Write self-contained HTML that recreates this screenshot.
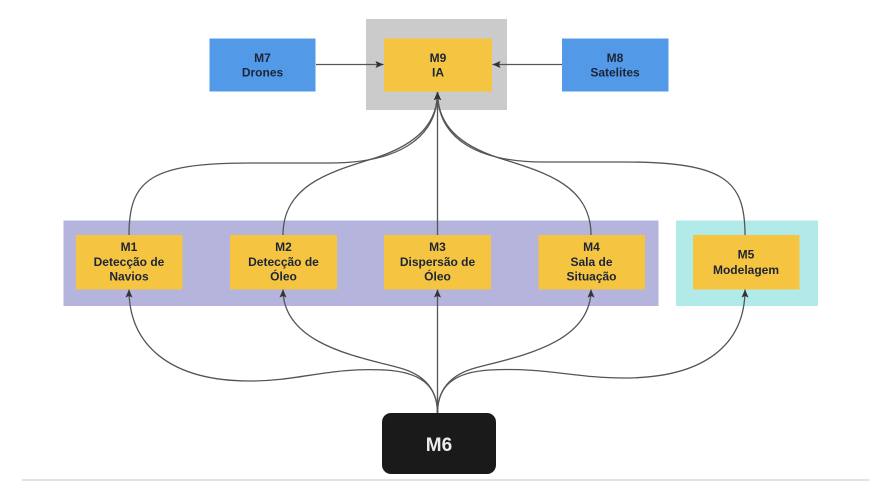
<!DOCTYPE html>
<html><head><meta charset="utf-8"><style>
html,body{margin:0;padding:0;background:#fff;width:869px;height:482px;overflow:hidden}
svg{display:block}
text{font-family:"Liberation Sans",Arial,sans-serif;font-weight:bold;font-size:12px;fill:#1d2436;text-anchor:middle}
</style></head><body>
<svg width="869" height="482" viewBox="0 0 869 482" xmlns="http://www.w3.org/2000/svg">
<defs>
<marker id="a" markerUnits="userSpaceOnUse" markerWidth="9" markerHeight="8" refX="8" refY="3.5" orient="auto">
<path d="M0,0 L8,3.5 L0,7 L1.5,3.5 z" fill="#333"/>
</marker>
</defs>
<!-- containers -->
<rect x="366" y="19" width="141" height="91" fill="#cbcbcb"/>
<rect x="63.5" y="220.5" width="595" height="85.5" fill="#b4b4dc"/>
<rect x="676" y="220.5" width="142" height="85.5" fill="#b2e9e9"/>
<!-- top boxes -->
<rect x="209.5" y="38.5" width="106" height="53" fill="#5299e8"/>
<rect x="562" y="38.5" width="106.5" height="53" fill="#5299e8"/>
<rect x="384" y="38.5" width="108" height="53" fill="#f5c542"/>
<!-- middle boxes -->
<rect x="76" y="235" width="106.5" height="54.5" fill="#f5c542"/>
<rect x="230" y="235" width="107" height="54.5" fill="#f5c542"/>
<rect x="384" y="235" width="107" height="54.5" fill="#f5c542"/>
<rect x="538.5" y="235" width="106.5" height="54.5" fill="#f5c542"/>
<rect x="693" y="235" width="106.5" height="54.5" fill="#f5c542"/>
<!-- M6 -->
<rect x="382" y="413" width="114" height="61" rx="9" fill="#1a1a1a"/>
<!-- bottom line -->
<rect x="22" y="479" width="847" height="2" fill="#e2e2e2"/>

<!-- connectors -->
<g fill="none" stroke="#555" stroke-width="1.3">
<path d="M316,64.5 L383.5,64.5" marker-end="url(#a)"/>
<path d="M562,64.5 L492.5,64.5" marker-end="url(#a)"/>
<!-- up to M9 -->
<path d="M129,235 C129,180 150,163 250,163 L330,163 C395,163 437.5,140 437.5,92" marker-end="url(#a)"/>
<path d="M283,235 C283,185 330,172 375,158 C415,145 437.5,125 437.5,92" marker-end="url(#a)"/>
<path d="M437.5,235 L437.5,92" marker-end="url(#a)"/>
<path d="M591,235 C591,185 544,172 499,158 C459,145 437.5,125 437.5,92" marker-end="url(#a)"/>
<path d="M745,235 C745,180 724,162 624,162 L544,162 C479,162 437.5,140 437.5,92" marker-end="url(#a)"/>
<!-- from M6 -->
<path d="M437.5,413 C437.5,385 420,372 385,370 C330,367 300,381 250,381 C170,381 129,345 129,289.5" marker-end="url(#a)"/>
<path d="M437.5,413 C437.5,390 425,375 400,368 C360,357 283,345 283,289.5" marker-end="url(#a)"/>
<path d="M437.5,413 L437.5,289.5" marker-end="url(#a)"/>
<path d="M437.5,413 C437.5,390 450,375 475,368 C515,357 591,345 591,289.5" marker-end="url(#a)"/>
<path d="M437.5,413 C437.5,385 455,372 490,370 C545,367 574,378 624,378 C704,378 745,345 745,289.5" marker-end="url(#a)"/>
</g>

<!-- labels -->
<text x="262.5" y="62">M7</text><text x="262.5" y="76.5">Drones</text>
<text x="615" y="62">M8</text><text x="615" y="76.5">Satelites</text>
<text x="438" y="62">M9</text><text x="438" y="76.5">IA</text>

<text x="129" y="251">M1</text><text x="129" y="266">Detecção de</text><text x="129" y="280.5">Navios</text>
<text x="283.5" y="251">M2</text><text x="283.5" y="266">Detecção de</text><text x="283.5" y="280.5">Óleo</text>
<text x="437.5" y="251">M3</text><text x="437.5" y="266">Dispersão de</text><text x="437.5" y="280.5">Óleo</text>
<text x="591.5" y="251">M4</text><text x="591.5" y="266">Sala de</text><text x="591.5" y="280.5">Situação</text>
<text x="746" y="258.5">M5</text><text x="746" y="274">Modelagem</text>

<text x="439" y="451" style="font-size:19px;fill:#ececec">M6</text>
</svg>
</body></html>
